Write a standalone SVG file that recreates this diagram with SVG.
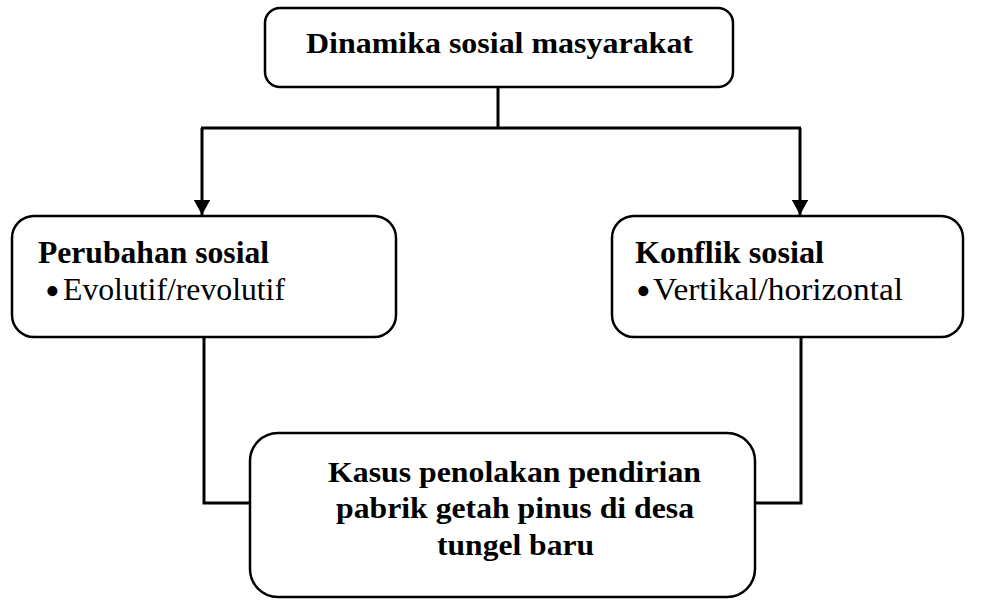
<svg xmlns="http://www.w3.org/2000/svg" width="987" height="601" viewBox="0 0 987 601">
<style>
.box{fill:#fff;stroke:#000;stroke-width:2.5}
.ln{fill:none;stroke:#000;stroke-width:3}
.t{font-family:"Liberation Serif","Times New Roman",serif;fill:#000}
.b{font-weight:bold}
.bul{font-size:42px}
</style>
<defs>
<marker id="arr" markerWidth="5" markerHeight="5.4" refX="5" refY="2.7" orient="auto" markerUnits="strokeWidth">
<path d="M0,0 L5,2.7 L0,5.4 z" fill="#000"/>
</marker>
</defs>
<rect width="987" height="601" fill="#fff"/>
<g id="connectors">
<path class="ln" d="M498,87 V128"/>
<path class="ln" d="M201,128 H801"/>
<path class="ln" d="M202,128 V215" marker-end="url(#arr)"/>
<path class="ln" d="M800,128 V215" marker-end="url(#arr)"/>
<path class="ln" d="M204,337 V503 H250"/>
<path class="ln" d="M801,337 V503 H755"/>
</g>
<g id="node-top">
<rect class="box" x="265" y="8" width="468" height="79" rx="15"/>
<text class="t b" x="306" y="53" font-size="30" textLength="387" lengthAdjust="spacingAndGlyphs">Dinamika sosial masyarakat</text>
</g>
<g id="node-left">
<rect class="box" x="12" y="216" width="384" height="121" rx="22"/>
<text class="t b" x="38" y="263" font-size="32" textLength="231" lengthAdjust="spacingAndGlyphs">Perubahan sosial</text>
<text class="t bul" x="45" y="305">•</text>
<text class="t" x="63" y="300" font-size="32" textLength="222" lengthAdjust="spacingAndGlyphs">Evolutif/revolutif</text>
</g>
<g id="node-right">
<rect class="box" x="612" y="216" width="351" height="121" rx="22"/>
<text class="t b" x="635" y="263" font-size="32" textLength="189" lengthAdjust="spacingAndGlyphs">Konflik sosial</text>
<text class="t bul" x="636" y="305">•</text>
<text class="t" x="653" y="300" font-size="32" textLength="250" lengthAdjust="spacingAndGlyphs">Vertikal/horizontal</text>
</g>
<g id="node-bottom">
<rect class="box" x="250" y="433" width="505" height="164" rx="28"/>
<text class="t b" x="328" y="482" font-size="30" textLength="373" lengthAdjust="spacingAndGlyphs">Kasus penolakan pendirian</text>
<text class="t b" x="336" y="518" font-size="30" textLength="358" lengthAdjust="spacingAndGlyphs">pabrik getah pinus di desa</text>
<text class="t b" x="437" y="555" font-size="30" textLength="157" lengthAdjust="spacingAndGlyphs">tungel baru</text>
</g>
</svg>
